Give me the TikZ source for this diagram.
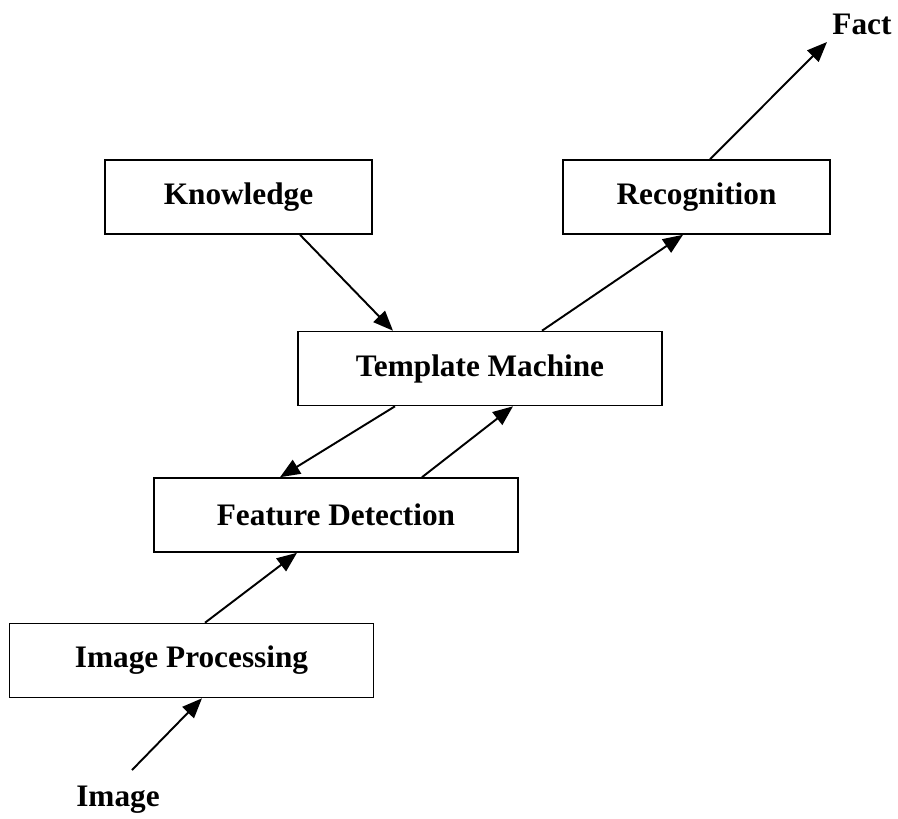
\documentclass[tikz,border=0pt]{standalone}
\usepackage{fontspec}
\setmainfont{Liberation Serif}
\usetikzlibrary{arrows.meta,positioning}

\tikzset{
  blk/.style={draw, line width=0.9pt, minimum height=1.48cm, inner sep=0pt,
    font=\fontsize{17.8}{20}\selectfont\bfseries},
  blkwide/.style={blk, minimum width=7.28cm},
  blknarrow/.style={blk, minimum width=5.34cm},
  lbl/.style={inner sep=0pt, font=\fontsize{17.8}{20}\selectfont\bfseries},
  arr/.style={-{Triangle[length=4mm,width=3.2mm]}, line width=1.1pt}
}

\begin{document}
\begin{tikzpicture}
  \useasboundingbox (0,0) rectangle (17.96,-16.36);
  %% blocks
  \node[blknarrow] (know) at (4.77,-3.94) {Knowledge};
  \node[blknarrow] (recog) at (13.93,-3.94) {Recognition};
  \node[blkwide] (tmpl) at (9.60,-7.37) {Template Machine};
  \node[blkwide] (feat) at (6.72,-10.30) {Feature Detection};
  \node[blkwide] (improc) at (3.83,-13.21) {Image Processing};
  % input and output
  \node[lbl] (fact) at (17.24,-0.48) {Fact};
  \node[lbl] (img) at (2.36,-16.0) {Image};
  \coordinate (imgout) at (2.64,-15.40);
  \coordinate (factin) at (16.54,-0.84);
  %% connectors
  \draw[arr] (imgout) -- ([xshift=0.21cm]improc.south);
  \draw[arr] ([xshift=0.27cm]improc.north) -- ([xshift=-0.78cm]feat.south);
  \draw[arr] ([xshift=1.72cm]feat.north) -- ([xshift=0.66cm]tmpl.south);
  \draw[arr] ([xshift=-1.70cm]tmpl.south) -- ([xshift=-1.12cm]feat.north);
  \draw[arr] ([xshift=1.23cm]know.south) -- ([xshift=-1.74cm]tmpl.north);
  \draw[arr] ([xshift=1.24cm]tmpl.north) -- ([xshift=-0.27cm]recog.south);
  \draw[arr] ([xshift=0.27cm]recog.north) -- (factin);
\end{tikzpicture}
\end{document}
